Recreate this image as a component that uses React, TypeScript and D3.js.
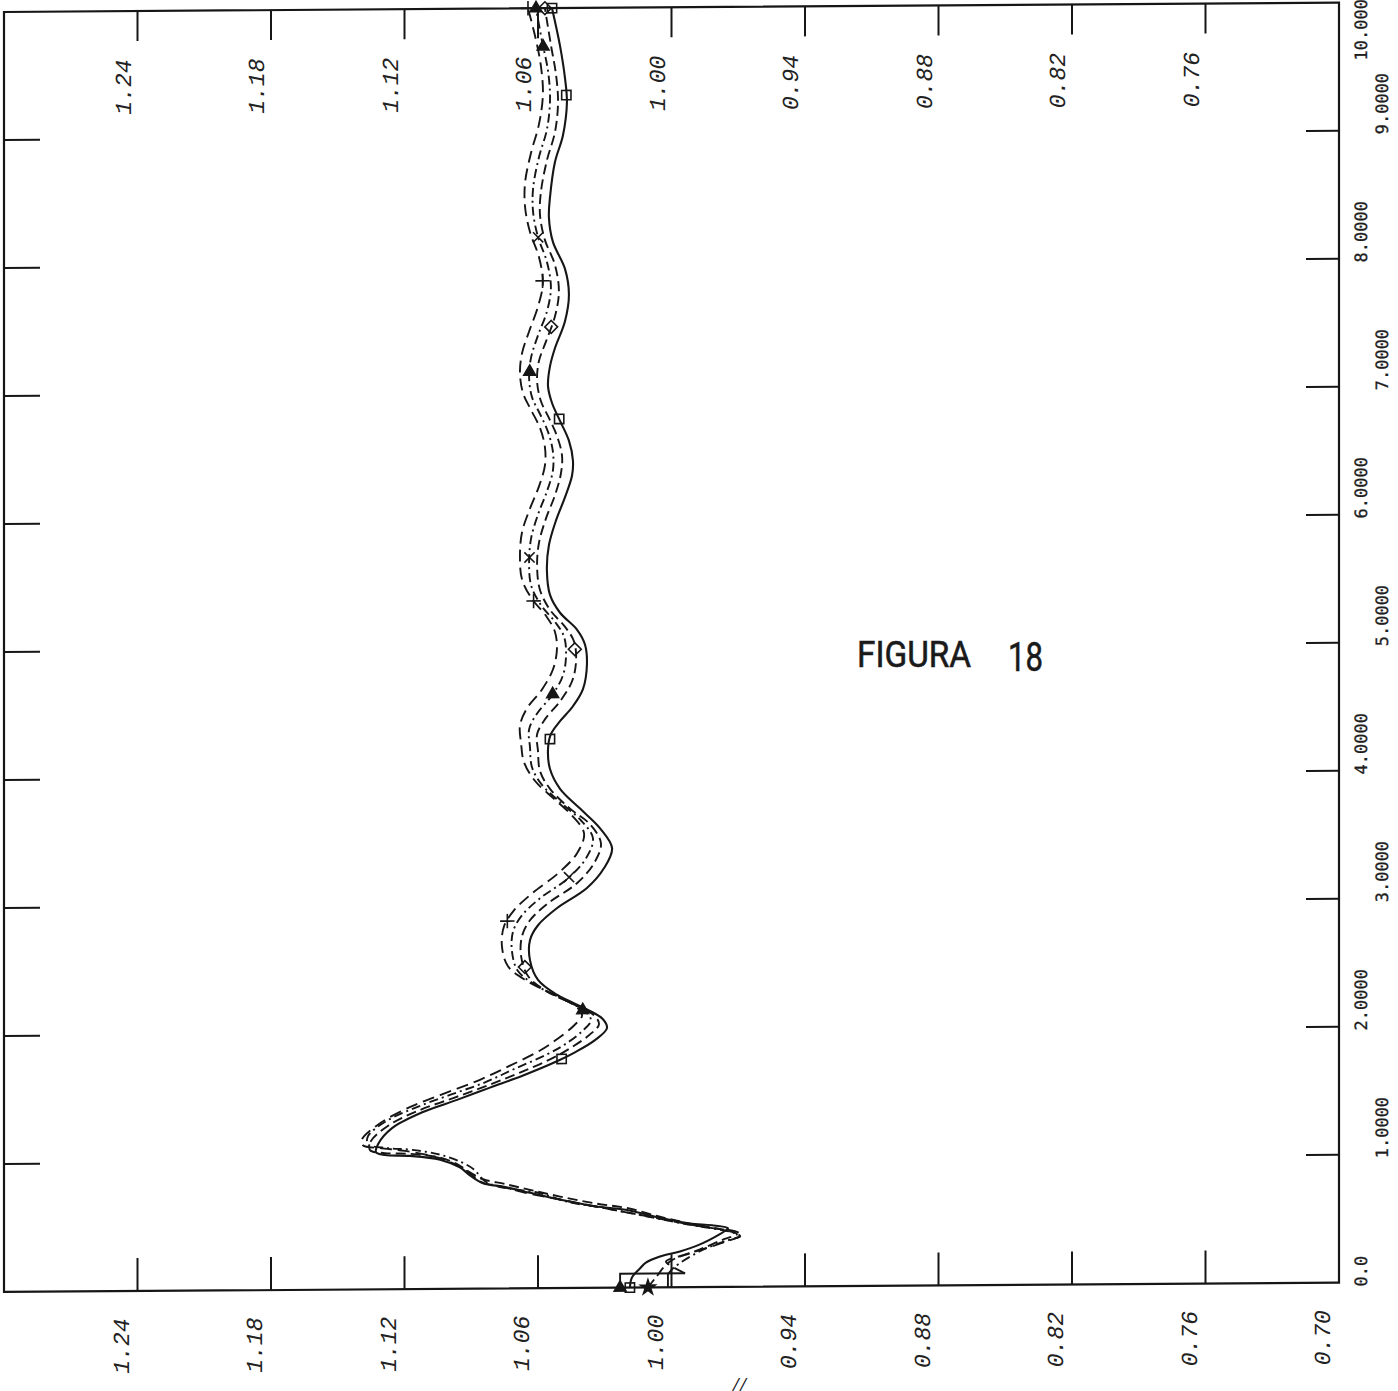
import React from "react";
import * as d3 from "d3";

// Value axis (horizontal, decreasing to the right) and position axis (vertical)
const valueTicks = [1.3, 1.24, 1.18, 1.12, 1.06, 1.0, 0.94, 0.88, 0.82, 0.76, 0.7];
const innerValueTicks = [1.24, 1.18, 1.12, 1.06, 1.0, 0.94, 0.88, 0.82, 0.76];
const positionTicks = [0, 1, 2, 3, 4, 5, 6, 7, 8, 9, 10];
const positionTickLabels = ["0.0", "1.0000", "2.0000", "3.0000", "4.0000", "5.0000", "6.0000", "7.0000", "8.0000", "9.0000", "10.000"];

// Each curve: [position, value]
const solidCurve: [number, number][] = [
  [0, 1.0187], [0.078, 1.0178], [0.148, 1.0142], [0.194, 1.0115], [0.241, 1.0052], [0.28, 0.9962],
  [0.334, 0.9872], [0.396, 0.98], [0.443, 0.9755], [0.458, 0.9746], [0.482, 0.9818], [0.497, 0.9917],
  [0.544, 1.0052], [0.606, 1.02], [0.637, 1.0344], [0.692, 1.0501], [0.746, 1.0636], [0.793, 1.0748],
  [0.824, 1.0847], [0.886, 1.0906], [0.948, 1.0951], [1.01, 1.104], [1.041, 1.1175], [1.049, 1.1288],
  [1.072, 1.1328], [1.134, 1.1319], [1.259, 1.1256], [1.383, 1.1117], [1.476, 1.0964], [1.57, 1.0816],
  [1.663, 1.0667], [1.772, 1.0515], [1.841, 1.0434], [1.935, 1.0344], [2.028, 1.029], [2.098, 1.0308],
  [2.176, 1.038], [2.292, 1.0515], [2.409, 1.06], [2.564, 1.0636], [2.72, 1.0636], [2.836, 1.06],
  [2.968, 1.0515], [3.124, 1.038], [3.279, 1.0303], [3.434, 1.0267], [3.59, 1.0321], [3.745, 1.0411],
  [3.901, 1.0501], [4.056, 1.0546], [4.211, 1.0555], [4.328, 1.0542], [4.429, 1.0501], [4.545, 1.0443],
  [4.678, 1.0398], [4.872, 1.038], [5.027, 1.0389], [5.144, 1.0425], [5.276, 1.0501], [5.416, 1.0546],
  [5.61, 1.056], [5.804, 1.0551], [5.998, 1.0519], [6.177, 1.0479], [6.348, 1.0447], [6.465, 1.0443],
  [6.62, 1.0461], [6.775, 1.0501], [6.915, 1.0537], [7.047, 1.0555], [7.203, 1.0546], [7.343, 1.0524],
  [7.552, 1.0479], [7.762, 1.0461], [7.964, 1.0479], [8.174, 1.0533], [8.368, 1.0551], [8.524, 1.0546],
  [8.796, 1.0524], [9.005, 1.0488], [9.262, 1.047], [9.456, 1.0479], [9.705, 1.0501], [10.0, 1.0537],
];

const dashCurveA: [number, number][] = [
  [0, 1.0106], [0.07, 1.0074], [0.202, 1.0007], [0.295, 0.9872], [0.373, 0.9764], [0.412, 0.9706],
  [0.435, 0.9737], [0.466, 0.9818], [0.497, 0.9917], [0.552, 1.0052], [0.622, 1.02], [0.66, 1.0344],
  [0.715, 1.0501], [0.769, 1.0636], [0.816, 1.0748], [0.855, 1.0847], [0.909, 1.0906], [0.971, 1.096],
  [1.026, 1.104], [1.057, 1.1175], [1.064, 1.1288], [1.088, 1.1355], [1.158, 1.1351], [1.282, 1.127],
  [1.399, 1.113], [1.492, 1.0978], [1.585, 1.0829], [1.686, 1.0681], [1.795, 1.0537], [1.873, 1.0456],
  [1.974, 1.0371], [2.059, 1.0326], [2.129, 1.0348], [2.207, 1.0429], [2.323, 1.0564], [2.44, 1.0645],
  [2.595, 1.0676], [2.751, 1.0672], [2.875, 1.0636], [3.007, 1.0555], [3.162, 1.0425], [3.318, 1.0348],
  [3.473, 1.0317], [3.621, 1.0366], [3.745, 1.0456], [3.901, 1.0546], [4.04, 1.0591], [4.196, 1.06],
  [4.328, 1.0604], [4.444, 1.0569], [4.584, 1.0501], [4.74, 1.0447], [4.895, 1.0429], [5.051, 1.0438],
  [5.167, 1.0479], [5.299, 1.0546], [5.455, 1.0591], [5.633, 1.0604], [5.82, 1.0596], [6.014, 1.0564],
  [6.193, 1.0524], [6.364, 1.0497], [6.503, 1.0492], [6.659, 1.0515], [6.799, 1.0551], [6.931, 1.0587],
  [7.086, 1.0604], [7.242, 1.0596], [7.397, 1.0564], [7.591, 1.0524], [7.786, 1.0506], [7.995, 1.0524],
  [8.19, 1.0569], [8.384, 1.0591], [8.563, 1.0587], [8.811, 1.056], [9.029, 1.0524], [9.262, 1.051],
  [9.479, 1.0519], [9.713, 1.0542], [10.0, 1.0569],
];

const dashCurveB: [number, number][] = [
  [0.101, 1.0016], [0.155, 0.9989], [0.28, 0.9872], [0.357, 0.976], [0.396, 0.9692], [0.427, 0.9728],
  [0.458, 0.9818], [0.49, 0.9926], [0.567, 1.0142], [0.629, 1.0321], [0.668, 1.0456], [0.746, 1.06],
  [0.793, 1.0771], [0.839, 1.0838], [0.932, 1.0888], [0.987, 1.0942], [1.049, 1.104], [1.088, 1.1166],
  [1.103, 1.1274], [1.134, 1.1364], [1.197, 1.1364], [1.313, 1.1283], [1.422, 1.1144], [1.515, 1.0996],
  [1.608, 1.0843], [1.717, 1.0703], [1.826, 1.056], [1.904, 1.0479], [2.005, 1.0402], [2.09, 1.0362],
  [2.16, 1.0389], [2.246, 1.0474], [2.362, 1.0604], [2.479, 1.069], [2.634, 1.0717], [2.789, 1.0712],
  [2.914, 1.0672], [3.046, 1.0591], [3.201, 1.0465], [3.357, 1.0384], [3.512, 1.0353], [3.66, 1.0411],
  [3.784, 1.0492], [3.932, 1.0582], [4.071, 1.0627], [4.227, 1.0636], [4.367, 1.064], [4.491, 1.0604],
  [4.631, 1.0537], [4.786, 1.0488], [4.942, 1.0474], [5.089, 1.0483], [5.206, 1.0524], [5.338, 1.0587],
  [5.493, 1.0631], [5.672, 1.064], [5.859, 1.0631], [6.045, 1.06], [6.224, 1.056], [6.387, 1.0533],
  [6.535, 1.0533], [6.69, 1.0555], [6.83, 1.0591], [6.962, 1.0627], [7.117, 1.064], [7.273, 1.0631],
  [7.444, 1.06], [7.63, 1.056], [7.817, 1.0542], [8.019, 1.056], [8.213, 1.06], [8.407, 1.0622],
  [8.594, 1.0622], [8.834, 1.0596], [9.052, 1.056], [9.285, 1.0546], [9.51, 1.0555], [9.744, 1.0582],
  [10.0, 1.0609],
];

const dashCurveC: [number, number][] = [
  [0.109, 0.9939], [0.163, 0.9998], [0.202, 1.0025], [0.264, 0.9917], [0.326, 0.9805], [0.381, 0.971],
  [0.404, 0.9683], [0.435, 0.9715], [0.458, 0.9809], [0.49, 0.9917], [0.552, 1.0097], [0.629, 1.0321],
  [0.692, 1.0501], [0.738, 1.0636], [0.793, 1.0757], [0.831, 1.0852], [0.901, 1.0906], [0.963, 1.096],
  [1.026, 1.1049], [1.08, 1.1198], [1.103, 1.131], [1.127, 1.1387], [1.173, 1.1391], [1.298, 1.131],
  [1.43, 1.1166], [1.531, 1.1014], [1.632, 1.0861], [1.74, 1.0726], [1.857, 1.0591], [1.95, 1.051],
  [2.051, 1.0438], [2.129, 1.0402], [2.199, 1.0429], [2.284, 1.0519], [2.401, 1.065], [2.517, 1.0735],
  [2.673, 1.0762], [2.828, 1.0753], [2.953, 1.0708], [3.085, 1.0627], [3.24, 1.051], [3.395, 1.0425],
  [3.551, 1.0393], [3.691, 1.0447], [3.823, 1.0528], [3.963, 1.0613], [4.11, 1.0663], [4.258, 1.0676],
  [4.398, 1.0681], [4.53, 1.065], [4.678, 1.0582], [4.833, 1.0533], [4.988, 1.0515], [5.128, 1.0524],
  [5.253, 1.0564], [5.385, 1.0627], [5.54, 1.0672], [5.719, 1.0681], [5.905, 1.0672], [6.092, 1.0636],
  [6.263, 1.0596], [6.426, 1.0569], [6.573, 1.0569], [6.721, 1.0591], [6.861, 1.0631], [6.993, 1.0667],
  [7.148, 1.0681], [7.304, 1.0672], [7.475, 1.064], [7.669, 1.06], [7.855, 1.0578], [8.058, 1.0596],
  [8.252, 1.0636], [8.446, 1.0658], [8.64, 1.0658], [8.873, 1.0631], [9.091, 1.0596], [9.324, 1.0578],
  [9.549, 1.0587], [9.782, 1.0613], [10.0, 1.0645],
];

// Short step segments near the origin
const baseStubA: [number, number][] = [[0, 1.0231], [0.109, 1.0231], [0.109, 0.9939]];
const baseStubB: [number, number][] = [[0, 1.0016], [0.109, 1.0016]];

// Marker positions along each curve (position values)
const solidMarks = [0, 1.79, 4.29, 6.79, 9.32, 10];
const dashAMarks = [2.51, 4.99, 7.51, 10];
const dashAStart = [0];
const dashBMarks = [2.17, 4.64, 7.16, 9.7, 10];
const dashBCrossMarks = [3.21, 5.71, 8.21];
const dashCMarks = [2.87, 5.37, 7.87, 10];

function valueAt(curve: [number, number][], t: number): number {
  if (t <= curve[0][0]) return curve[0][1];
  for (let i = 1; i < curve.length; i++) {
    if (t <= curve[i][0]) {
      const [t0, v0] = curve[i - 1];
      const [t1, v1] = curve[i];
      const f = (t - t0) / (t1 - t0 || 1);
      return v0 + f * (v1 - v0);
    }
  }
  return curve[curve.length - 1][1];
}

export default function App() {
  const xs = d3.scaleLinear().domain([1.3, 0.7]).range([4, 1339]);
  const ys = d3.scaleLinear().domain([0, 10]).range([1292, 12]);
  const fmt = d3.format(".2f");
  const ink = "#161616";

  const smooth = d3
    .line<[number, number]>()
    .x((d) => xs(d[1]))
    .y((d) => ys(d[0]))
    .curve(d3.curveCatmullRom.alpha(0.5));
  const straight = d3
    .line<[number, number]>()
    .x((d) => xs(d[1]))
    .y((d) => ys(d[0]));

  const sym = (type: any, size: number) => d3.symbol().type(type).size(size)() || "";
  const sq = sym((d3 as any).symbolSquare2 ?? d3.symbolSquare, 110);
  const dia = sym((d3 as any).symbolDiamond2 ?? d3.symbolDiamond, 105);
  const tri = sym(d3.symbolTriangle, 60);
  const plus = sym((d3 as any).symbolPlus ?? d3.symbolCross, 70);
  const times = sym((d3 as any).symbolTimes ?? d3.symbolCross, 70);
  const star = sym(d3.symbolStar, 65);

  const markerSet = (
    curve: [number, number][],
    ts: number[],
    path: string,
    filled: boolean,
    key: string
  ) =>
    ts.map((t, i) => (
      <path
        key={key + i}
        d={path}
        transform={`translate(${xs(valueAt(curve, t))},${ys(t)})`}
        fill={filled ? ink : "#fff"}
        fillOpacity={filled ? 1 : 0}
        stroke={ink}
        strokeWidth={1.6}
      />
    ));

  const curves = [
    { key: "c", data: dashCurveC, dash: "12,6" },
    { key: "b", data: dashCurveB, dash: "9,4,2,4" },
    { key: "a", data: dashCurveA, dash: "10,5" },
  ];

  const labelFont = "'Liberation Mono', 'DejaVu Sans Mono', monospace";

  return (
    <svg
      width={1398}
      height={1391}
      style={{ position: "absolute", left: 0, top: 0, background: "#fff" }}
    >
      <rect x={0} y={0} width={1398} height={1391} fill="#fff" />
      <g transform="skewY(-0.4)">
        {/* frame */}
        <rect
          x={xs(1.3)}
          y={ys(10)}
          width={xs(0.7) - xs(1.3)}
          height={ys(0) - ys(10)}
          fill="none"
          stroke={ink}
          strokeWidth={2.2}
        />
        {/* top and bottom ticks */}
        {innerValueTicks.map((v) => (
          <g key={"vt" + v}>
            <line x1={xs(v)} x2={xs(v)} y1={ys(10)} y2={ys(10) + 30} stroke={ink} strokeWidth={2} />
            <line x1={xs(v)} x2={xs(v)} y1={ys(0)} y2={ys(0) - 33} stroke={ink} strokeWidth={2} />
          </g>
        ))}
        {/* left and right ticks */}
        {positionTicks.slice(1, 10).map((t) => (
          <g key={"pt" + t}>
            <line x1={xs(1.3)} x2={xs(1.3) + 36} y1={ys(t)} y2={ys(t)} stroke={ink} strokeWidth={2} />
            <line x1={xs(0.7)} x2={xs(0.7) - 33} y1={ys(t)} y2={ys(t)} stroke={ink} strokeWidth={2} />
          </g>
        ))}
        {/* bottom value labels */}
        {valueTicks.map((v) => (
          <text
            key={"bl" + v}
            transform={`translate(${xs(v) - 17 + 8},1347) rotate(-90)`}
            textAnchor="middle"
            fontFamily={labelFont}
            fontStyle="italic"
            fontSize={23}
            fill="#222"
          >
            {fmt(v)}
          </text>
        ))}
        {/* value labels inside the top edge */}
        {innerValueTicks.map((v) => (
          <text
            key={"tl" + v}
            transform={`translate(${xs(v) - 15 + 8},${ys(10) + 76}) rotate(-90)`}
            textAnchor="middle"
            fontFamily={labelFont}
            fontStyle="italic"
            fontSize={23}
            fill="#222"
          >
            {fmt(v)}
          </text>
        ))}
        {/* position labels on the right */}
        {positionTicks.map((t, i) => (
          <text
            key={"pl" + t}
            transform={`translate(${t % 2 === 0 ? 1367 : 1388},${Math.max(ys(t) + 4, 70)}) rotate(-90)`}
            textAnchor="start"
            fontFamily="'DejaVu Sans Mono', 'Liberation Mono', monospace"
            fontSize={17}
            fill="#1e1e1e"
            stroke="#1e1e1e"
            strokeWidth={0.3}
          >
            {positionTickLabels[i]}
          </text>
        ))}

        {/* curves */}
        {curves.map((c) => (
          <path
            key={c.key}
            d={smooth(c.data) || ""}
            fill="none"
            stroke={ink}
            strokeWidth={1.9}
            strokeDasharray={c.dash}
          />
        ))}
        <path d={straight(baseStubA) || ""} fill="none" stroke={ink} strokeWidth={1.9} />
        <path d={straight(baseStubB) || ""} fill="none" stroke={ink} strokeWidth={1.9} />
        <path d={smooth(solidCurve) || ""} fill="none" stroke={ink} strokeWidth={2.1} />

        {/* markers */}
        {markerSet(dashCurveC, dashCMarks, plus, false, "mc")}
        {markerSet(dashCurveB, dashBMarks, tri, true, "mb")}
        {markerSet(dashCurveB, dashBCrossMarks, times, false, "mx")}
        {markerSet(dashCurveA, dashAMarks, dia, false, "ma")}
        {markerSet(dashCurveA, dashAStart, star, true, "ms")}
        {markerSet(baseStubA, [0], tri, true, "mt")}
        {markerSet(solidCurve, solidMarks, sq, false, "mq")}
      </g>

      {/* figure title */}
      <text
        x={857}
        y={667}
        fontFamily="Roboto, 'DejaVu Sans', sans-serif"
        fontSize={37}
        textLength={114}
        lengthAdjust="spacingAndGlyphs"
        fill="#1a1a1a"
        stroke="#1a1a1a"
        strokeWidth={0.6}
      >
        FIGURA
      </text>
      <text
        x={1008}
        y={671}
        fontFamily="Roboto, 'DejaVu Sans', sans-serif"
        fontSize={41}
        textLength={35}
        lengthAdjust="spacingAndGlyphs"
        fill="#1a1a1a"
        stroke="#1a1a1a"
        strokeWidth={0.6}
      >
        18
      </text>
      <text
        x={731}
        y={1395}
        fontFamily="'Liberation Serif', serif"
        fontStyle="italic"
        fontSize={26}
        fill="#222"
      >
        //
      </text>
    </svg>
  );
}
